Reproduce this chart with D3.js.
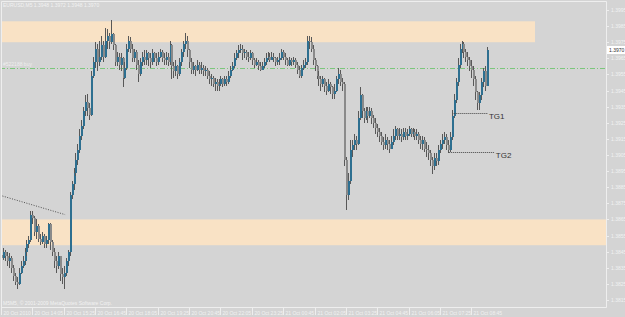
<!DOCTYPE html>
<html>
<head>
<meta charset="utf-8">
<script src="https://cdn.jsdelivr.net/npm/d3@7/dist/d3.min.js"></script>
<style>
  body { margin: 0; background: #d4d4d4; }
  svg { display: block; }
  text { font-family: "Liberation Sans", Arial, sans-serif; }
</style>
</head>
<body>
<svg width="625" height="317"></svg>
<script>
(function (d3) {
  'use strict'

  // EURUSD M5, 20-21 Oct 2010, one value per bar (open = previous close)
  const title = 'EURUSD,M5 1.3948 1.3972 1.3948 1.3970'
  const firstOpen = 1.3843
  const closes = [
    1.3841, 1.3845, 1.3842, 1.3839, 1.3841, 1.3835, 1.3830, 1.3826, 1.3825, 1.3832,
    1.3836, 1.3839, 1.3845, 1.3850, 1.3852, 1.3868, 1.3866, 1.3857, 1.3861, 1.3853,
    1.3851, 1.3855, 1.3850, 1.3852, 1.3862, 1.3851, 1.3845, 1.3839, 1.3836, 1.3842,
    1.3831, 1.3829, 1.3832, 1.3839, 1.3845, 1.3880, 1.3887, 1.3894, 1.3902, 1.3908,
    1.3917, 1.3923, 1.3932, 1.3938, 1.3934, 1.3930, 1.3954, 1.3963, 1.3971, 1.3963,
    1.3966, 1.3973, 1.3966, 1.3976, 1.3979, 1.3975, 1.3980, 1.3973, 1.3963, 1.3966,
    1.3961, 1.3965, 1.3953, 1.3959, 1.3971, 1.3976, 1.3971, 1.3965, 1.3969, 1.3961,
    1.3955, 1.3963, 1.3966, 1.3964, 1.3968, 1.3965, 1.3963, 1.3968, 1.3965, 1.3963,
    1.3966, 1.3969, 1.3965, 1.3964, 1.3966, 1.3963, 1.3973, 1.3960, 1.3957, 1.3960,
    1.3955, 1.3963, 1.3969, 1.3974, 1.3976, 1.3970, 1.3963, 1.3958, 1.3960, 1.3958,
    1.3961, 1.3958, 1.3959, 1.3957, 1.3958, 1.3954, 1.3952, 1.3953, 1.3949, 1.3950,
    1.3948, 1.3949, 1.3952, 1.3949, 1.3952, 1.3950, 1.3954, 1.3958, 1.3960, 1.3965,
    1.3968, 1.3970, 1.3971, 1.3968, 1.3969, 1.3966, 1.3965, 1.3968, 1.3964, 1.3961,
    1.3963, 1.3960, 1.3958, 1.3960, 1.3963, 1.3965, 1.3966, 1.3964, 1.3966, 1.3965,
    1.3963, 1.3964, 1.3965, 1.3969, 1.3966, 1.3964, 1.3961, 1.3964, 1.3963, 1.3964,
    1.3961, 1.3958, 1.3954, 1.3959, 1.3961, 1.3963, 1.3976, 1.3975, 1.3971, 1.3964,
    1.3960, 1.3954, 1.3952, 1.3949, 1.3952, 1.3948, 1.3945, 1.3949, 1.3947, 1.3943,
    1.3945, 1.3952, 1.3955, 1.3950, 1.3949, 1.3902, 1.3880, 1.3889, 1.3908, 1.3911,
    1.3914, 1.3912, 1.3928, 1.3942, 1.3932, 1.3928, 1.3932, 1.3929, 1.3932, 1.3928,
    1.3925, 1.3922, 1.3919, 1.3917, 1.3913, 1.3911, 1.3914, 1.3912, 1.3909, 1.3913,
    1.3917, 1.3921, 1.3917, 1.3918, 1.3916, 1.3919, 1.3917, 1.3918, 1.3921, 1.3918,
    1.3919, 1.3917, 1.3918, 1.3914, 1.3912, 1.3914, 1.3909, 1.3908, 1.3906, 1.3902,
    1.3898, 1.3903, 1.3901, 1.3908, 1.3912, 1.3914, 1.3916, 1.3911, 1.3908, 1.3916,
    1.3929, 1.3939, 1.3950, 1.3961, 1.3971, 1.3974, 1.3969, 1.3966, 1.3964, 1.3960,
    1.3958, 1.3952, 1.3944, 1.3937, 1.3942, 1.3950, 1.3957, 1.3948, 1.3970]
  const highs = [
    1.3846, 1.3847, 1.3846, 1.3845, 1.3844, 1.3842, 1.3837, 1.3832, 1.3829, 1.3835,
    1.3839, 1.3842, 1.3847, 1.3852, 1.3855, 1.3870, 1.3870, 1.3867, 1.3865, 1.3862,
    1.3856, 1.3857, 1.3856, 1.3855, 1.3863, 1.3863, 1.3852, 1.3847, 1.3842, 1.3845,
    1.3842, 1.3835, 1.3836, 1.3841, 1.3846, 1.3882, 1.3889, 1.3897, 1.3906, 1.3912,
    1.3921, 1.3927, 1.3935, 1.3942, 1.3943, 1.3937, 1.3957, 1.3966, 1.3975, 1.3974,
    1.3976, 1.3979, 1.3976, 1.3984, 1.3983, 1.3981, 1.3989, 1.3981, 1.3974, 1.3969,
    1.3968, 1.3968, 1.3966, 1.3963, 1.3974, 1.3979, 1.3978, 1.3974, 1.3971, 1.3970,
    1.3964, 1.3965, 1.3969, 1.3970, 1.3970, 1.3969, 1.3968, 1.3971, 1.3969, 1.3968,
    1.3969, 1.3971, 1.3970, 1.3968, 1.3969, 1.3968, 1.3976, 1.3974, 1.3963, 1.3964,
    1.3961, 1.3965, 1.3971, 1.3976, 1.3981, 1.3979, 1.3971, 1.3965, 1.3963, 1.3961,
    1.3964, 1.3963, 1.3963, 1.3961, 1.3960, 1.3959, 1.3957, 1.3955, 1.3954, 1.3953,
    1.3952, 1.3952, 1.3954, 1.3953, 1.3954, 1.3954, 1.3957, 1.3960, 1.3963, 1.3968,
    1.3970, 1.3973, 1.3974, 1.3973, 1.3971, 1.3970, 1.3969, 1.3970, 1.3969, 1.3965,
    1.3965, 1.3964, 1.3963, 1.3963, 1.3965, 1.3968, 1.3969, 1.3968, 1.3969, 1.3968,
    1.3966, 1.3966, 1.3968, 1.3971, 1.3970, 1.3968, 1.3965, 1.3966, 1.3965, 1.3966,
    1.3965, 1.3963, 1.3960, 1.3961, 1.3964, 1.3965, 1.3979, 1.3979, 1.3978, 1.3973,
    1.3965, 1.3961, 1.3957, 1.3954, 1.3954, 1.3953, 1.3950, 1.3952, 1.3950, 1.3948,
    1.3949, 1.3954, 1.3959, 1.3958, 1.3953, 1.3950, 1.3904, 1.3894, 1.3914, 1.3914,
    1.3918, 1.3917, 1.3932, 1.3947, 1.3943, 1.3934, 1.3935, 1.3935, 1.3935, 1.3934,
    1.3930, 1.3928, 1.3924, 1.3922, 1.3919, 1.3916, 1.3918, 1.3916, 1.3914, 1.3917,
    1.3921, 1.3923, 1.3922, 1.3922, 1.3921, 1.3922, 1.3922, 1.3921, 1.3923, 1.3922,
    1.3922, 1.3921, 1.3921, 1.3919, 1.3917, 1.3917, 1.3916, 1.3913, 1.3911, 1.3908,
    1.3904, 1.3906, 1.3906, 1.3911, 1.3914, 1.3918, 1.3919, 1.3918, 1.3914, 1.3919,
    1.3933, 1.3943, 1.3953, 1.3965, 1.3974, 1.3976, 1.3975, 1.3971, 1.3969, 1.3966,
    1.3964, 1.3960, 1.3954, 1.3945, 1.3944, 1.3953, 1.3959, 1.3960, 1.3972]
  const lows = [
    1.3839, 1.3840, 1.3839, 1.3836, 1.3835, 1.3832, 1.3827, 1.3824, 1.3822, 1.3824,
    1.3831, 1.3835, 1.3837, 1.3842, 1.3847, 1.3851, 1.3862, 1.3855, 1.3853, 1.3851,
    1.3849, 1.3850, 1.3847, 1.3847, 1.3850, 1.3846, 1.3842, 1.3835, 1.3832, 1.3834,
    1.3827, 1.3825, 1.3822, 1.3830, 1.3836, 1.3842, 1.3878, 1.3883, 1.3892, 1.3899,
    1.3906, 1.3914, 1.3921, 1.3929, 1.3929, 1.3927, 1.3929, 1.3953, 1.3959, 1.3957,
    1.3960, 1.3964, 1.3963, 1.3965, 1.3971, 1.3971, 1.3974, 1.3970, 1.3960, 1.3960,
    1.3958, 1.3957, 1.3947, 1.3952, 1.3958, 1.3969, 1.3968, 1.3963, 1.3963, 1.3958,
    1.3950, 1.3954, 1.3960, 1.3961, 1.3961, 1.3960, 1.3959, 1.3961, 1.3963, 1.3960,
    1.3961, 1.3965, 1.3963, 1.3961, 1.3961, 1.3960, 1.3961, 1.3952, 1.3953, 1.3954,
    1.3952, 1.3954, 1.3960, 1.3966, 1.3971, 1.3966, 1.3959, 1.3955, 1.3955, 1.3954,
    1.3957, 1.3955, 1.3955, 1.3954, 1.3954, 1.3952, 1.3949, 1.3948, 1.3947, 1.3945,
    1.3945, 1.3945, 1.3948, 1.3947, 1.3948, 1.3948, 1.3949, 1.3953, 1.3957, 1.3959,
    1.3964, 1.3965, 1.3968, 1.3964, 1.3965, 1.3964, 1.3963, 1.3964, 1.3961, 1.3959,
    1.3960, 1.3958, 1.3957, 1.3958, 1.3959, 1.3961, 1.3964, 1.3963, 1.3964, 1.3963,
    1.3960, 1.3961, 1.3961, 1.3964, 1.3964, 1.3961, 1.3960, 1.3960, 1.3960, 1.3961,
    1.3959, 1.3955, 1.3953, 1.3953, 1.3958, 1.3959, 1.3961, 1.3971, 1.3969, 1.3961,
    1.3957, 1.3952, 1.3948, 1.3945, 1.3947, 1.3944, 1.3942, 1.3944, 1.3943, 1.3940,
    1.3940, 1.3944, 1.3949, 1.3948, 1.3945, 1.3898, 1.3871, 1.3877, 1.3887, 1.3904,
    1.3908, 1.3908, 1.3911, 1.3927, 1.3928, 1.3925, 1.3927, 1.3925, 1.3928, 1.3924,
    1.3922, 1.3918, 1.3916, 1.3913, 1.3911, 1.3908, 1.3909, 1.3908, 1.3906, 1.3909,
    1.3911, 1.3914, 1.3914, 1.3914, 1.3913, 1.3914, 1.3914, 1.3914, 1.3917, 1.3916,
    1.3916, 1.3914, 1.3914, 1.3912, 1.3909, 1.3908, 1.3907, 1.3904, 1.3902, 1.3898,
    1.3893, 1.3896, 1.3898, 1.3899, 1.3906, 1.3909, 1.3912, 1.3908, 1.3906, 1.3907,
    1.3914, 1.3928, 1.3937, 1.3948, 1.3959, 1.3968, 1.3965, 1.3963, 1.3960, 1.3957,
    1.3953, 1.3948, 1.3939, 1.3933, 1.3933, 1.3939, 1.3947, 1.3945, 1.3948]

  const timeLabels = ['20 Oct 2010', '20 Oct 14:05', '20 Oct 15:25', '20 Oct 16:45',
    '20 Oct 18:05', '20 Oct 19:25', '20 Oct 20:45', '20 Oct 22:05', '20 Oct 23:25',
    '21 Oct 00:45', '21 Oct 02:05', '21 Oct 03:25', '21 Oct 04:45', '21 Oct 06:05',
    '21 Oct 07:25', '21 Oct 08:45']
  const priceLabels = ['1.3995', '1.3985', '1.3975', '1.3965', '1.3955', '1.3945',
    '1.3935', '1.3925', '1.3915', '1.3905', '1.3895', '1.3885', '1.3875', '1.3865',
    '1.3855', '1.3845', '1.3835', '1.3825', '1.3815']

  // chart objects: [fromBar, toBar, top, bottom]
  const zones = [[-1, 272.5, 1.3988, 1.3975], [-1, 310, 1.3865, 1.3849]]
  const trendLine = [[-0.5, 1.3880], [32.7, 1.3868]]
  const targets = [
    { name: 'TG1', from: 231, to: 248.5, price: 1.3931 },
    { name: 'TG2', from: 228.5, to: 252, price: 1.3907 }]
  const order = { label: '#522188 buy', price: 1.3959 }
  const bid = 1.3970

  const bars = closes.map(function (c, i) {
    const o = i === 0 ? firstOpen : closes[i - 1]
    return { i: i, o: o, h: Math.max(highs[i], o, c), l: Math.min(lows[i], o, c), c: c }
  })

  const W = 625, H = 317
  const axisX = 606, axisBottom = 307

  const x = d3.scaleLinear().domain([0, 248]).range([1, 487])
  const y = d3.scaleLinear().domain([1.3815, 1.3995]).range([300, 10])

  const svg = d3.select('svg')
  svg.append('rect').attr('width', W).attr('height', H).attr('fill', '#d4d4d4')

  const plot = svg.append('g')
  plot.append('defs').append('clipPath').attr('id', 'clip').
    append('rect').attr('x', 1).attr('y', 1).attr('width', axisX - 1).attr('height', axisBottom - 1)
  const inner = plot.append('g').attr('clip-path', 'url(#clip)')

  // rectangles
  inner.selectAll('rect.zone').
    data(zones).
    enter().
    append('rect').
    attr('class', 'zone').
    attr('x', function (d) { return x(d[0]) }).
    attr('width', function (d) { return x(d[1]) - x(d[0]) }).
    attr('y', function (d) { return y(d[2]) }).
    attr('height', function (d) { return y(d[3]) - y(d[2]) }).
    attr('fill', '#f9e2c5')

  // order line
  inner.append('line').
    attr('x1', 0).attr('x2', axisX).
    attr('y1', Math.round(y(order.price)) + 0.5).attr('y2', Math.round(y(order.price)) + 0.5).
    attr('stroke', '#7cc67c').attr('stroke-width', 1).attr('stroke-dasharray', '5,2,1,2')
  svg.append('text').
    attr('x', 3).attr('y', y(order.price) - 2).
    attr('font-size', 5).attr('fill', '#eeeeee').
    text(order.label)

  // trend line
  inner.append('line').
    attr('x1', x(trendLine[0][0])).attr('y1', y(trendLine[0][1])).
    attr('x2', x(trendLine[1][0])).attr('y2', y(trendLine[1][1])).
    attr('stroke', '#505050').attr('stroke-width', 1).attr('stroke-dasharray', '1,1.5')

  // candles: wick first, body on top
  const candle = inner.selectAll('g.bar').
    data(bars).
    enter().
    append('g').
    attr('class', 'bar')

  candle.append('line').
    attr('x1', function (d) { return Math.round(x(d.i)) + 0.5 }).
    attr('x2', function (d) { return Math.round(x(d.i)) + 0.5 }).
    attr('y1', function (d) { return Math.round(y(d.h)) }).
    attr('y2', function (d) { return Math.round(y(d.l)) }).
    attr('stroke', '#585858').attr('stroke-width', 1).
    attr('shape-rendering', 'crispEdges')

  candle.append('rect').
    attr('x', function (d) { return Math.round(x(d.i)) }).
    attr('width', 2).
    attr('y', function (d) { return Math.round(y(Math.max(d.o, d.c))) }).
    attr('height', function (d) {
      return Math.max(1, Math.round(y(Math.min(d.o, d.c))) - Math.round(y(Math.max(d.o, d.c))))
    }).
    attr('fill', function (d) { return d.c >= d.o ? '#2d6f90' : '#8a8a8a' }).
    attr('shape-rendering', 'crispEdges')

  // targets
  inner.selectAll('line.target').
    data(targets).
    enter().
    append('line').
    attr('class', 'target').
    attr('x1', function (d) { return x(d.from) }).
    attr('x2', function (d) { return x(d.to) }).
    attr('y1', function (d) { return Math.round(y(d.price)) + 0.5 }).
    attr('y2', function (d) { return Math.round(y(d.price)) + 0.5 }).
    attr('stroke', '#404040').attr('stroke-dasharray', '1,1')
  svg.selectAll('text.target').
    data(targets).
    enter().
    append('text').
    attr('class', 'target').
    attr('x', function (d) { return x(d.to) + 1 }).
    attr('y', function (d) { return y(d.price) + 6 }).
    attr('font-size', 8).attr('fill', '#333333').
    text(function (d) { return d.name })

  // frame
  svg.append('path').
    attr('d', 'M1.5,1.5H' + (axisX + 0.5) + 'V' + (axisBottom + 0.5) + 'H1.5Z').
    attr('fill', 'none').attr('stroke', '#eeeeee')

  svg.append('text').attr('x', 3).attr('y', 7).
    attr('font-size', 5).attr('fill', '#f2f2f2').text(title)
  svg.append('text').attr('x', 3).attr('y', 305).
    attr('font-size', 5).attr('fill', '#f2f2f2').
    text('M5M5, \u00a9 2001-2009 MetaQuotes Software Corp.')

  // price axis
  const py = svg.append('g').selectAll('g').
    data(priceLabels).
    enter().
    append('g').
    attr('transform', function (d) { return 'translate(' + axisX + ',' + Math.round(y(+d)) + ')' })
  py.append('line').attr('x1', 0.5).attr('x2', 3).attr('y1', 0.5).attr('y2', 0.5).attr('stroke', '#eeeeee')
  py.append('text').attr('x', 5).attr('y', 2).
    attr('font-size', 5).attr('fill', '#f2f2f2').text(function (d) { return d })

  const by = Math.round(y(bid))
  svg.append('rect').attr('x', axisX + 1).attr('y', by - 4).attr('width', 18).attr('height', 8).
    attr('fill', '#ffffff')
  svg.append('text').attr('x', axisX + 3).attr('y', by + 2).
    attr('font-size', 5).attr('fill', '#303030').text(bid.toFixed(4))

  // time axis
  const tx = svg.append('g').selectAll('g').
    data(timeLabels).
    enter().
    append('g').
    attr('transform', function (d, i) { return 'translate(' + Math.round(x(i * 16)) + ',' + axisBottom + ')' })
  tx.append('line').attr('x1', 0.5).attr('x2', 0.5).attr('y1', 0).attr('y2', 8).attr('stroke', '#eeeeee')
  tx.append('text').attr('x', 2.5).attr('y', 8).
    attr('font-size', 5).attr('fill', '#f2f2f2').text(function (d) { return d })
}(d3))
</script>
</body>
</html>
